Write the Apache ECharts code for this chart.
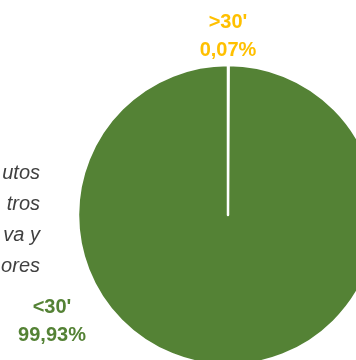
<!DOCTYPE html>
<html>
<head>
<meta charset="utf-8">
<script src="https://cdn.jsdelivr.net/npm/echarts@6/dist/echarts.min.js"></script>
<style>
  html, body { margin: 0; padding: 0; background: #fff; }
  #chart { width: 356px; height: 360px; }
</style>
</head>
<body>
<div id="chart"></div>
<script>
// data
const categories = [">30'", "<30'"]
const shares = [0.07, 99.93]
const sliceColors = ['#FFC000', '#548235']
// only the right ends of the title lines are visible (cut off at left)
const titleLines = ['utos', 'tros', 'va y', 'ores']

const chart = echarts.init(document.getElementById('chart'))

const fmt = v => v.toFixed(2).replace('.', ',') + '%'

// where each slice label sits
const labelSpots = [
  { x: 228, y: 36 },
  { x: 52, y: 321 }
]

const option = {
  animation: false,
  textStyle: { fontFamily: 'Liberation Sans, Arial, sans-serif' },
  graphic: [
    {
      type: 'text',
      x: 40,
      y: 158,
      style: {
        text: titleLines.join('\n'),
        font: 'italic 20px Liberation Sans, Arial, sans-serif',
        fill: '#404040',
        align: 'right',
        verticalAlign: 'top',
        lineHeight: 31
      }
    }
  ],
  series: [
    {
      type: 'pie',
      center: [228, 215],
      radius: 150,
      startAngle: 90,
      clockwise: true,
      data: categories.map((name, i) => ({
        name: name,
        value: shares[i],
        itemStyle: { color: sliceColors[i] },
        label: { color: sliceColors[i] }
      })),
      itemStyle: {
        borderColor: '#fff',
        borderWidth: 2.5
      },
      label: {
        show: true,
        formatter: p => p.name + '\n' + fmt(p.value),
        fontSize: 20,
        fontWeight: 'bold',
        lineHeight: 28,
        align: 'center'
      },
      labelLine: { show: false },
      labelLayout: params => ({
        x: labelSpots[params.dataIndex].x,
        y: labelSpots[params.dataIndex].y,
        align: 'center',
        verticalAlign: 'middle'
      }),
      emphasis: { disabled: true }
    }
  ]
}

chart.setOption(option)
window.addEventListener('resize', () => chart.resize())
</script>
</body>
</html>
